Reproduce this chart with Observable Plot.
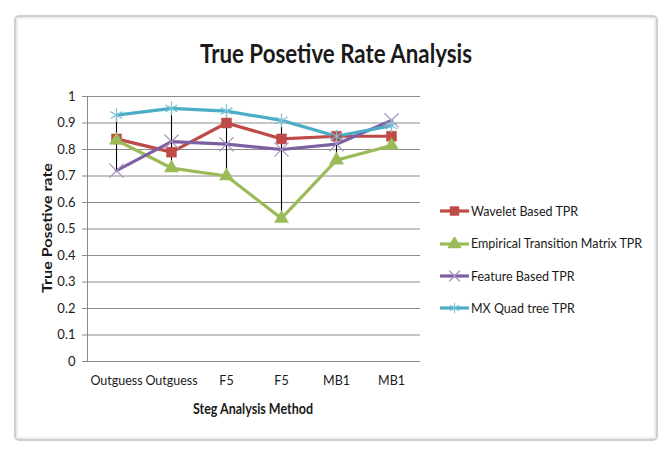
<!DOCTYPE html>
<html>
<head>
<meta charset="utf-8">
<script src="https://cdn.jsdelivr.net/npm/d3@7"></script>
<script src="https://cdn.jsdelivr.net/npm/@observablehq/plot@0.6"></script>
<style>
  html, body { margin: 0; padding: 0; background: #fff; }
  #wrap { position: relative; width: 668px; height: 449px; overflow: hidden; font-family: Lato, "Open Sans", sans-serif; color: #1a1a1a; }
  #frame { position: absolute; left: 14px; top: 15px; width: 640px; height: 422px; border: 2px solid #cfcfcf; border-radius: 5px; box-shadow: inset 0 0 0 2px #ececec; }
  .abs { position: absolute; white-space: nowrap; }
  #title { font-weight: bold; font-size: 26px; transform-origin: left top; }
  #ylab { font-weight: bold; font-size: 13px; transform-origin: left top; }
  #xlab { font-weight: bold; font-size: 14.5px; transform-origin: left top; }
  .leg { font-size: 12.5px; display: flex; align-items: center; }
  .leg svg { margin-right: 2px; }
</style>
</head>
<body>
<div id="wrap">
  <div id="frame"></div>
  <div id="chart" class="abs" style="left:0;top:0"></div>
  <div id="title" class="abs">True Posetive Rate Analysis</div>
  <div id="ylab" class="abs">True Posetive rate</div>
  <div id="xlab" class="abs">Steg Analysis Method</div>
  <div id="legend" class="abs" style="left:440px;top:195px"></div>
</div>
<script>
const categories = ["Outguess", "Outguess", "F5", "F5", "MB1", "MB1"];
const seriesNames = ["Wavelet Based TPR", "Empirical Transition Matrix TPR", "Feature Based TPR", "MX Quad tree TPR"];
const wavelet   = [0.84, 0.79, 0.90, 0.84, 0.85, 0.85];
const empirical = [0.835, 0.73, 0.70, 0.54, 0.76, 0.815];
const feature   = [0.72, 0.83, 0.82, 0.80, 0.82, 0.91];
const quadtree  = [0.93, 0.955, 0.945, 0.91, 0.85, 0.89];
const yTicks = [0, 0.1, 0.2, 0.3, 0.4, 0.5, 0.6, 0.7, 0.8, 0.9, 1];
const colors = ["#BE4B48", "#9BBB59", "#7D60A0", "#4BACC6"];
const symbols = ["square", "triangle", "times", "asterisk"];

const allSeries = [wavelet, empirical, feature, quadtree];
const rows = [];
allSeries.forEach((vals, s) => vals.forEach((v, i) => rows.push({i, s, name: seriesNames[s], v})));
const idx = d3.range(categories.length);

const font = "Lato, 'Open Sans', sans-serif";

const marks = [
  Plot.ruleY(yTicks, {stroke: "#8c8c8c", strokeWidth: 1}),
  Plot.frame({anchor: "left", stroke: "#8c8c8c"}),
  Plot.axisY({ticks: yTicks, tickSize: 5, tickPadding: 7, stroke: "#8c8c8c", tickFormat: d => String(+d.toFixed(1)), label: null, fontSize: 13, fill: "#1a1a1a"}),
  Plot.axisX({tickSize: 0, tickPadding: 15, tickFormat: i => categories[i], label: null, fontSize: 12.5, fill: "#1a1a1a"})
];
allSeries.forEach((vals, s) => {
  marks.push(Plot.line(rows.filter(r => r.s === s), {x: "i", y: "v", stroke: colors[s], strokeWidth: 3.2}));
});
marks.push(Plot.ruleX(idx, {x: i => i, y1: i => d3.min(allSeries, a => a[i]), y2: i => d3.max(allSeries, a => a[i]), stroke: "#000", strokeWidth: 1.1}));
marks.push(Plot.dot(rows.filter(r => r.s === 0), {x: "i", y: "v", symbol: "square", r: 5.6, fill: colors[0], stroke: colors[0], strokeWidth: 0.5}));
marks.push(Plot.dot(rows.filter(r => r.s === 1), {x: "i", y: "v", symbol: "triangle", r: 5.2, fill: colors[1], stroke: colors[1], strokeWidth: 0.5}));
marks.push(Plot.dot(rows.filter(r => r.s === 2), {x: "i", y: "v", symbol: "times", r: 6.5, stroke: "#a694c4", strokeWidth: 1.2}));
marks.push(Plot.dot(rows.filter(r => r.s === 3), {x: "i", y: "v", symbol: "asterisk", r: 6.5, stroke: "#78c3d8", strokeWidth: 1.2}));

const chart = Plot.plot({
  width: 668, height: 449,
  marginLeft: 87, marginRight: 248, marginTop: 96, marginBottom: 88,
  style: {fontFamily: font, fontSize: "12.5px", background: "transparent", color: "#1a1a1a"},
  x: {type: "point", domain: idx, padding: 0.5, axis: null},
  y: {domain: [0, 1], axis: null},
  marks
});
document.getElementById("chart").appendChild(chart);

// legend
const leg = document.getElementById("legend");
const rowHeights = [32, 33, 32, 32];
seriesNames.forEach((name, s) => {
  const row = document.createElement("div");
  row.className = "leg";
  row.style.height = rowHeights[s] + "px";
  const sym = d3.symbol(d3["symbol" + {square: "Square", triangle: "Triangle", times: "Times", asterisk: "Asterisk"}[symbols[s]]], 80)();
  const filled = s < 2;
  row.innerHTML = `<svg width="29" height="14" viewBox="0 0 29 14"><line x1="0" x2="29" y1="7" y2="7" stroke="${colors[s]}" stroke-width="3.2"/><path transform="translate(14.5,7)" d="${sym}" fill="${filled ? colors[s] : "none"}" stroke="${filled ? colors[s] : (s === 2 ? "#a694c4" : "#78c3d8")}" stroke-width="${filled ? 0.5 : 1.2}"/></svg><span>${name}</span>`;
  leg.appendChild(row);
});

// fit text boxes to their measured extents
function place(id, left, top, width) {
  const el = document.getElementById(id);
  const w = el.getBoundingClientRect().width;
  el.style.left = left + "px";
  el.style.top = top + "px";
  el.style.transform = `scaleX(${width / w})`;
}
place("title", 200, 37, 272);
place("xlab", 193, 400, 120);
const yl = document.getElementById("ylab");
const yw = yl.getBoundingClientRect().width;
yl.style.left = "39px";
yl.style.top = "293px";
yl.style.transform = `rotate(-90deg) scaleX(${130 / yw})`;
</script>
</body>
</html>
